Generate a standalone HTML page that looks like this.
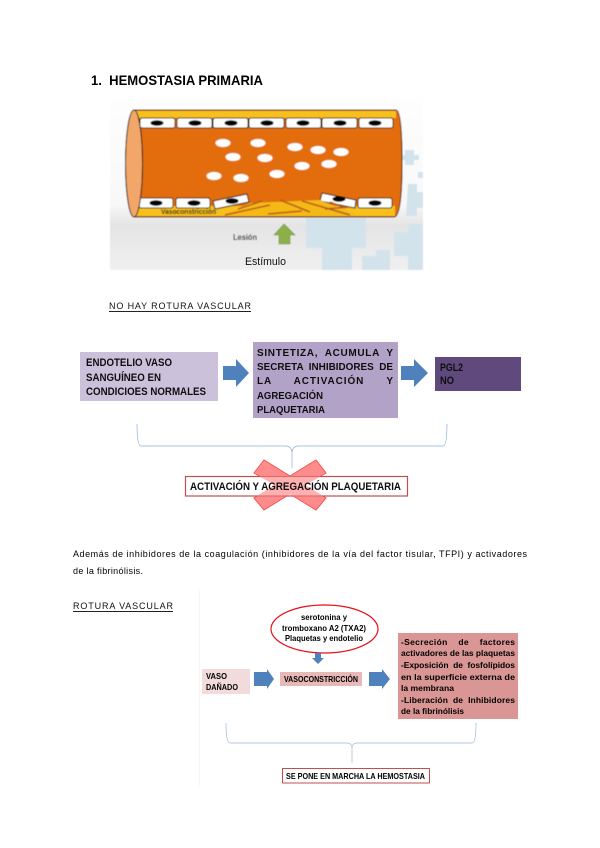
<!DOCTYPE html>
<html lang="es"><head><meta charset="utf-8"><title>Hemostasia primaria</title>
<style>
html,body{margin:0;padding:0;background:#fff;width:600px;height:848px;overflow:hidden}
svg{display:block}
text{font-family:"Liberation Sans",sans-serif;fill:#111}
.b{font-weight:bold;font-size:11px;fill:#111}
.c{font-weight:bold;font-size:10px;fill:#111}
.s{font-weight:bold;font-size:8.500px;fill:#000}
</style></head><body>
<svg width="600" height="848" viewBox="0 0 600 848" xmlns="http://www.w3.org/2000/svg">
<defs>
<filter id="bl" x="-5%" y="-5%" width="110%" height="110%"><feGaussianBlur stdDeviation="0.4"/></filter>
<filter id="bl2" x="-5%" y="-5%" width="110%" height="110%"><feGaussianBlur stdDeviation="0.22"/></filter>
<linearGradient id="bg" x1="0" y1="0" x2="0" y2="1">
<stop offset="0" stop-color="#fefefe"/><stop offset=".62" stop-color="#f8f8f8"/><stop offset=".74" stop-color="#e4e4e4"/><stop offset="1" stop-color="#f0f0f0"/>
</linearGradient>
</defs>
<text x="91" y="85" font-size="14" font-weight="bold" textLength="172" lengthAdjust="spacingAndGlyphs" style="fill:#000">1.&#160; HEMOSTASIA PRIMARIA</text>
<g filter="url(#bl)">
<rect x="110" y="98" width="313" height="172" fill="url(#bg)"/>
<g fill="#d3e3ec">
<path d="M306 218h60v30h-14v22h-30v-22h-16z"/><path d="M405 150h9v5h5v5h-5v5h-9v-5h-4v-5h4z"/>
<path d="M408 184h9v8h6v16h-6v8h-11z"/><rect x="418" y="172" width="5" height="6"/>
<path d="M394 232h14v-8h15v46h-15v-14h-14z"/><path d="M362 256h14v-6h14v20h-28z"/>
</g>
<path d="M134 110H396Q402 110 402 163Q402 217 394 217H134Z" fill="#e36c0a" stroke="#111" stroke-width="1"/>
<rect x="135" y="111" width="261" height="7" fill="#f8c01a"/>
<rect x="135" y="206" width="260" height="10" fill="#f8c01a"/>
<g fill="#fff" stroke="#111" stroke-width="1">
<rect x="140" y="118" width="35" height="10" rx="2"/><rect x="177" y="118" width="35" height="10" rx="2"/><rect x="213" y="118" width="35" height="10" rx="2"/><rect x="249" y="118" width="35" height="10" rx="2"/><rect x="286" y="118" width="35" height="10" rx="2"/><rect x="322" y="118" width="35" height="10" rx="2"/><rect x="359" y="118" width="34" height="10" rx="2"/>
<rect x="139" y="198" width="34" height="10" rx="2"/><rect x="176" y="198" width="34" height="10" rx="2"/>
<path d="M213 201L247 194L249 202L215 209Z"/>
<path d="M322 193L356 200L355 208L320 201Z"/><rect x="358" y="198" width="34" height="10" rx="2"/>
</g>
<path d="M223 215L250 203L320 200L357 215Z" fill="#f5b916"/>
<g stroke="#b85a20" stroke-width="1.500" fill="none">
<path d="M225 215L270 205M238 209L262 201M280 200L310 212M268 214L302 211M302 201L350 215M325 209L350 207M330 202L345 208"/>
</g>
<g fill="#000">
<ellipse cx="157" cy="123" rx="6.500" ry="2.800"/><ellipse cx="195" cy="123" rx="6.500" ry="2.800"/><ellipse cx="231" cy="123" rx="6.500" ry="2.800"/><ellipse cx="267" cy="123" rx="6.500" ry="2.800"/><ellipse cx="303" cy="123" rx="6.500" ry="2.800"/><ellipse cx="340" cy="123" rx="6.500" ry="2.800"/><ellipse cx="375" cy="123" rx="6.500" ry="2.800"/>
<ellipse cx="156" cy="203" rx="6.500" ry="2.800"/><ellipse cx="194" cy="203" rx="6.500" ry="2.800"/><ellipse cx="232" cy="201" rx="6.500" ry="2.800"/><ellipse cx="339" cy="199" rx="6.500" ry="2.800"/><ellipse cx="375" cy="203" rx="6.500" ry="2.800"/>
</g>
<g fill="#fff">
<ellipse cx="223" cy="143" rx="7.500" ry="4"/><ellipse cx="258" cy="143" rx="7.500" ry="4"/><ellipse cx="295" cy="147" rx="7.500" ry="4"/><ellipse cx="318" cy="150" rx="7.500" ry="4"/><ellipse cx="341" cy="152" rx="7.500" ry="4"/><ellipse cx="233" cy="157" rx="7.500" ry="4"/><ellipse cx="265" cy="158" rx="7.500" ry="4"/><ellipse cx="329" cy="164" rx="7.500" ry="4"/><ellipse cx="302" cy="166" rx="7.500" ry="4"/><ellipse cx="214" cy="176" rx="7.500" ry="4"/><ellipse cx="241" cy="178" rx="7.500" ry="4"/><ellipse cx="277" cy="174" rx="7.500" ry="4"/>
</g>
<ellipse cx="134" cy="163.500" rx="8.500" ry="53.500" fill="#f2a66b" stroke="#111" stroke-width="1"/>
<text x="161" y="214" font-size="7" font-weight="bold" textLength="55" lengthAdjust="spacingAndGlyphs" style="fill:#222">Vasoconstricción</text>
<text x="233" y="240" font-size="8" font-weight="bold" textLength="24" lengthAdjust="spacingAndGlyphs" style="fill:#222">Lesión</text>
<path d="M284 224L295 235H290V244H279V235H274Z" fill="#8cb04a" stroke="#6c8c34" stroke-width=".6"/>
</g>
<text x="245" y="265" font-size="11" textLength="41" lengthAdjust="spacingAndGlyphs" style="fill:#111">Estímulo</text>
<text x="109" y="309" font-size="9" textLength="142" style="fill:#111">NO HAY ROTURA VASCULAR</text>
<rect x="109" y="311" width="142" height="1" fill="#222"/>
<g filter="url(#bl2)">
<rect x="80" y="352" width="138" height="49" fill="#ccc1da"/>
<rect x="253" y="342" width="145" height="76" fill="#b2a2c7"/>
<rect x="435" y="357" width="86" height="34" fill="#604a7b"/>
<path d="M223 366H236V359L249 373L236 387V380H223Z" fill="#4f81bd"/>
<path d="M401 366H414V359L428 373L414 387V380H401Z" fill="#4f81bd"/>
<path d="M137 424Q137 446 141 446H286Q291 446 292 452Q293 446 298 446H443Q447 446 447 424M292 452V468" fill="none" stroke="#8eb0d6" stroke-width=".7"/>
<path d="M254 473L264 460L290 476L316 460L326 473L305 485L326 498L316 510L290 494L264 510L254 498L275 485Z" fill="#ff9c9c" stroke="#f04040" stroke-width="1"/>
<rect x="185.500" y="476.500" width="222" height="19.500" fill="#fff" fill-opacity=".82" stroke="#c0504d" stroke-width="1.200"/>
<path d="M254 473L264 460L290 476L316 460L326 473L305 485L326 498L316 510L290 494L264 510L254 498L275 485Z" fill="#ff8080" fill-opacity=".55"/>
<text class="b" x="86" y="366" textLength="86" lengthAdjust="spacingAndGlyphs">ENDOTELIO VASO</text>
<text class="b" x="86" y="381" textLength="75" lengthAdjust="spacingAndGlyphs">SANGUÍNEO EN</text>
<text class="b" x="86" y="395" textLength="120" lengthAdjust="spacingAndGlyphs">CONDICIOES NORMALES</text>
<text class="c" x="257" y="356" textLength="136" xml:space="preserve">SINTETIZA,  ACUMULA  Y</text>
<text class="c" x="257" y="370" textLength="136" lengthAdjust="spacingAndGlyphs" xml:space="preserve">SECRETA  INHIBIDORES  DE</text>
<text class="c" x="257" y="384" textLength="136" xml:space="preserve">LA      ACTIVACIÓN      Y</text>
<text class="c" x="257" y="399" textLength="66" lengthAdjust="spacingAndGlyphs">AGREGACIÓN</text>
<text class="c" x="257" y="413" textLength="68" lengthAdjust="spacingAndGlyphs">PLAQUETARIA</text>
<text class="b" x="440" y="371" textLength="23" lengthAdjust="spacingAndGlyphs">PGL2</text>
<text class="b" x="440" y="384" textLength="14" lengthAdjust="spacingAndGlyphs">NO</text>
<text class="b" x="190" y="490" textLength="211" lengthAdjust="spacingAndGlyphs">ACTIVACIÓN Y AGREGACIÓN PLAQUETARIA</text>
</g>
<text x="73" y="557" font-size="9" textLength="454" style="fill:#000">Además de inhibidores de la coagulación (inhibidores de la vía del factor tisular, TFPI) y activadores</text>
<text x="73" y="574" font-size="9" textLength="70" style="fill:#000">de la fibrinólisis.</text>
<text x="73" y="609" font-size="9" textLength="100" style="fill:#111">ROTURA VASCULAR</text>
<rect x="73" y="611" width="100" height="1" fill="#222"/>
<g filter="url(#bl2)">
<rect x="199" y="590" width="1" height="196" fill="#f6f6f6"/>
<ellipse cx="324.500" cy="629" rx="53.500" ry="24" fill="#fff" stroke="#e8101a" stroke-width="1.200"/>
<path d="M315 653H321V658H324L318 664L312 658H315Z" fill="#4f81bd"/>
<rect x="202" y="669" width="48" height="25" fill="#f2dcdb"/>
<rect x="280" y="672" width="82" height="14" fill="#e6b9b8"/>
<rect x="398" y="633" width="120" height="86" fill="#d99694"/>
<path d="M254 672H267V669L274 679L267 689V686H254Z" fill="#4f81bd"/>
<path d="M369 672H382V669L390 679L382 689V686H369Z" fill="#4f81bd"/>
<path d="M226 723Q226 743 230 743H347Q351 743 352 747Q353 743 357 743H472Q476 743 476 723M352 747V763" fill="none" stroke="#9cb8d8" stroke-width=".7"/>
<rect x="282.500" y="768.500" width="147" height="14.500" fill="#fff" stroke="#c0504d" stroke-width="1"/>
<text class="s" x="301" y="620" textLength="46" lengthAdjust="spacingAndGlyphs">serotonina y</text>
<text class="s" x="282" y="631" textLength="84" lengthAdjust="spacingAndGlyphs">tromboxano A2 (TXA2)</text>
<text class="s" x="285" y="641" textLength="78" lengthAdjust="spacingAndGlyphs">Plaquetas y endotelio</text>
<text class="s" x="206" y="679" textLength="21" lengthAdjust="spacingAndGlyphs">VASO</text>
<text class="s" x="206" y="690" textLength="32" lengthAdjust="spacingAndGlyphs">DAÑADO</text>
<text class="s" x="284" y="682" textLength="74" lengthAdjust="spacingAndGlyphs">VASOCONSTRICCIÓN</text>
<text class="s" x="401" y="645" textLength="114" xml:space="preserve">-Secreción    de    factores</text>
<text class="s" x="401" y="656" textLength="114" lengthAdjust="spacingAndGlyphs">activadores de las plaquetas</text>
<text class="s" x="401" y="668" textLength="114" xml:space="preserve">-Exposición  de  fosfolípidos</text>
<text class="s" x="401" y="680" textLength="114" lengthAdjust="spacingAndGlyphs" xml:space="preserve">en la superficie externa de</text>
<text class="s" x="401" y="691" textLength="53" lengthAdjust="spacingAndGlyphs">la membrana</text>
<text class="s" x="401" y="703" textLength="114" xml:space="preserve">-Liberación  de  Inhibidores</text>
<text class="s" x="401" y="714" textLength="63" lengthAdjust="spacingAndGlyphs">de la fibrinólisis</text>
<text class="s" x="286" y="779" textLength="139" lengthAdjust="spacingAndGlyphs">SE PONE EN MARCHA LA HEMOSTASIA</text>
</g>
</svg>
</body></html>
